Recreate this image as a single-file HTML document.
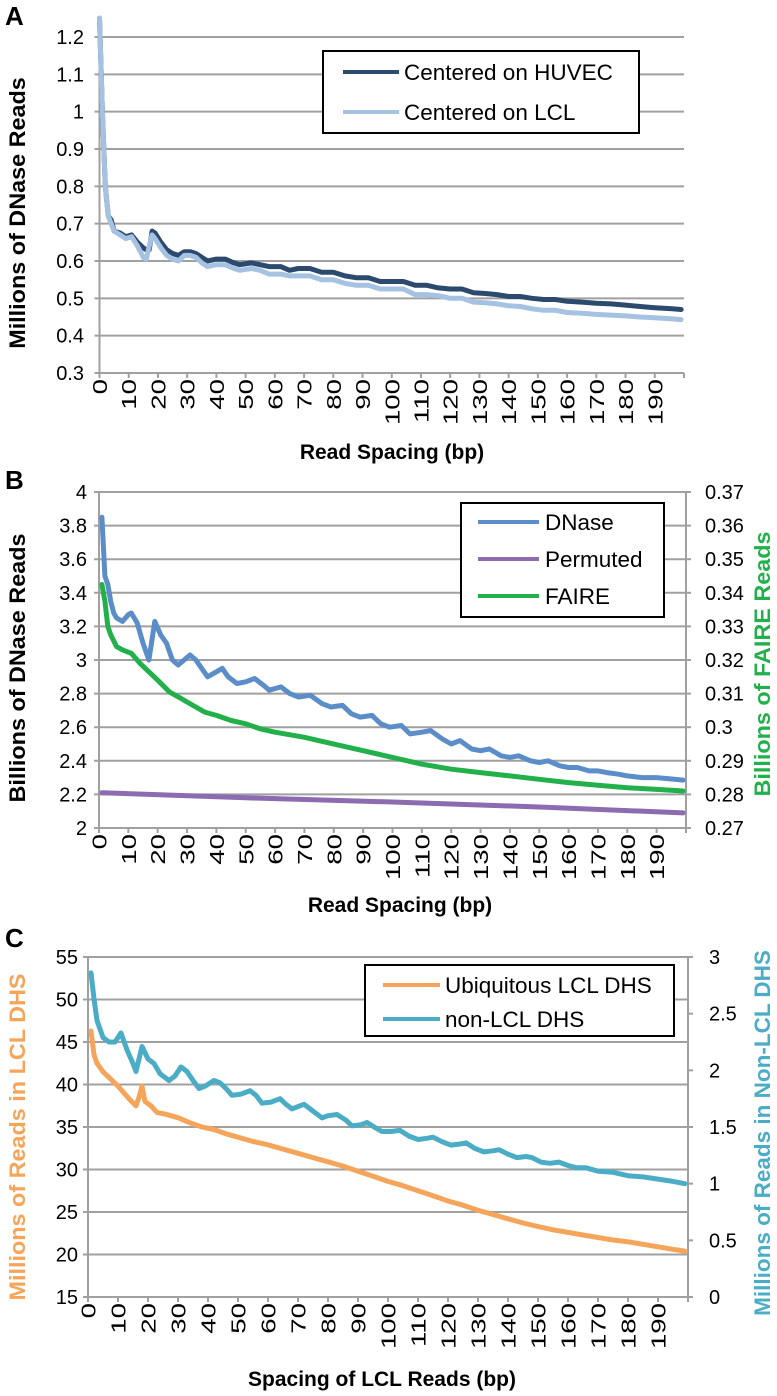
<!DOCTYPE html>
<html><head><meta charset="utf-8"><style>
body{margin:0;background:#fff}
svg{display:block;font-family:"Liberation Sans",Arial,sans-serif}
</style></head><body>
<svg id="fig" width="777" height="1396" viewBox="0 0 777 1396" xmlns="http://www.w3.org/2000/svg">
<text x="5" y="25" font-size="26" font-weight="bold">A</text>
<text x="5" y="489" font-size="26" font-weight="bold">B</text>
<text x="5" y="947" font-size="26" font-weight="bold">C</text>
<text transform="translate(25,213) rotate(-90) scale(1.04,1)" text-anchor="middle" font-size="22.5" font-weight="bold">Millions of DNase Reads</text>
<text transform="translate(25,668) rotate(-90) scale(1.04,1)" text-anchor="middle" font-size="22.5" font-weight="bold">Billions of DNase Reads</text>
<text transform="translate(25,1137) rotate(-90) scale(1.04,1)" text-anchor="middle" font-size="22.5" font-weight="bold" fill="#f5a55a">Millions of Reads in LCL DHS</text>
<text transform="translate(770,664) rotate(-90) scale(1.04,1)" text-anchor="middle" font-size="22.5" font-weight="bold" fill="#22b04b">Billions of FAIRE Reads</text>
<text transform="translate(770,1133) rotate(-90)" text-anchor="middle" font-size="22.5" font-weight="bold" fill="#4bacc6">Millions of  Reads in Non-LCL DHS</text>
<text x="392" y="459" text-anchor="middle" font-size="21" font-weight="bold">Read Spacing (bp)</text>
<text x="400" y="912" text-anchor="middle" font-size="21" font-weight="bold">Read Spacing (bp)</text>
<text x="382" y="1386" text-anchor="middle" font-size="21" font-weight="bold">Spacing of LCL Reads (bp)</text>
</svg>
<script>
// Panel A data
const aX=[0,1,2,3,4,5,7,9,11,13,15,16,17,18,19,21,23,25,27,29,31,33,35,37,40,43,46,48,52,55,58,62,65,68,72,76,80,84,88,92,96,100,104,108,112,116,120,124,128,132,136,140,144,148,152,156,160,165,170,175,180,185,190,196,199];
const aHuvec=[1.25,1.0,0.8,0.72,0.71,0.68,0.675,0.665,0.67,0.65,0.635,0.63,0.63,0.68,0.675,0.65,0.63,0.62,0.615,0.625,0.625,0.62,0.61,0.60,0.605,0.605,0.595,0.59,0.595,0.59,0.585,0.585,0.575,0.58,0.58,0.57,0.57,0.56,0.555,0.555,0.545,0.545,0.545,0.535,0.535,0.528,0.525,0.525,0.515,0.513,0.51,0.505,0.505,0.5,0.497,0.497,0.492,0.49,0.487,0.485,0.482,0.478,0.475,0.472,0.47];
const aLcl=[1.25,1.0,0.8,0.72,0.70,0.68,0.67,0.66,0.665,0.64,0.61,0.605,0.64,0.67,0.66,0.635,0.615,0.605,0.60,0.615,0.615,0.61,0.595,0.585,0.59,0.59,0.58,0.575,0.58,0.575,0.565,0.565,0.56,0.56,0.56,0.55,0.55,0.54,0.535,0.535,0.525,0.525,0.525,0.51,0.51,0.507,0.5,0.5,0.49,0.488,0.485,0.48,0.478,0.472,0.468,0.468,0.462,0.46,0.457,0.455,0.453,0.45,0.448,0.445,0.443];
const aTicks=[0.3,0.4,0.5,0.6,0.7,0.8,0.9,1.0,1.1,1.2];
const aTickLabels=["0.3","0.4","0.5","0.6","0.7","0.8","0.9","1","1.1","1.2"];
// Panel B data
const bDX=[1,2,3,4,5,6,8,10,11,13,15,17,19,21,23,25,27,29,31,33,35,37,40,42,44,47,50,53,56,58,62,65,68,72,76,79,83,86,89,93,96,99,103,106,110,113,117,120,123,127,130,133,137,140,143,147,150,153,157,160,163,167,170,173,177,180,185,190,196,199];
const bDnase=[3.85,3.5,3.45,3.35,3.28,3.25,3.23,3.27,3.28,3.22,3.1,3.0,3.23,3.15,3.1,3.0,2.97,3.0,3.03,3.0,2.95,2.9,2.93,2.95,2.9,2.86,2.87,2.89,2.85,2.82,2.84,2.8,2.78,2.79,2.74,2.72,2.73,2.68,2.66,2.67,2.62,2.6,2.61,2.56,2.57,2.58,2.53,2.5,2.52,2.47,2.46,2.47,2.43,2.42,2.43,2.4,2.39,2.4,2.37,2.36,2.36,2.34,2.34,2.33,2.32,2.31,2.3,2.3,2.29,2.285];
const bFX=[1,2,3,4,6,8,11,14,17,20,24,28,32,36,40,45,50,55,60,70,80,90,100,110,120,130,140,150,160,170,180,190,199];
const bFaire=[0.3425,0.3375,0.33,0.3275,0.324,0.323,0.322,0.319,0.3165,0.314,0.3105,0.3085,0.3065,0.3045,0.3035,0.302,0.301,0.2995,0.2985,0.297,0.295,0.293,0.291,0.289,0.2875,0.2865,0.2855,0.2845,0.2835,0.28275,0.282,0.2815,0.281];
const bPX=[1,50,100,150,199];
const bPermuted=[2.21,2.18,2.155,2.125,2.09];
const bTicks=[2,2.2,2.4,2.6,2.8,3,3.2,3.4,3.6,3.8,4];
const bTickLabels=["2","2.2","2.4","2.6","2.8","3","3.2","3.4","3.6","3.8","4"];
const bRTicks=[0.27,0.28,0.29,0.30,0.31,0.32,0.33,0.34,0.35,0.36,0.37];
const bRTickLabels=["0.27","0.28","0.29","0.3","0.31","0.32","0.33","0.34","0.35","0.36","0.37"];
// Panel C data
const cOX=[1,2,3,5,8,10,12,14,16,17,18,19,21,23,26,30,34,38,42,46,50,55,60,65,70,75,80,85,90,95,100,105,110,115,120,125,130,135,140,145,150,155,160,165,170,175,180,185,190,195,199];
const cUbiq=[46.3,43.5,42.5,41.5,40.5,39.8,39,38.2,37.5,38.5,39.8,38,37.5,36.7,36.5,36.1,35.5,35,34.7,34.2,33.8,33.3,32.9,32.4,31.9,31.4,30.9,30.4,29.8,29.2,28.6,28.1,27.5,26.9,26.3,25.8,25.2,24.7,24.2,23.7,23.3,22.9,22.6,22.3,22.0,21.7,21.5,21.2,20.9,20.6,20.4];
const cNX=[1,2,3,5,7,9,11,13,15,16,18,20,22,24,27,29,31,33,35,37,39,42,44,46,48,51,54,56,58,61,64,66,68,70,72,75,78,80,83,86,88,91,93,96,98,101,104,107,110,113,115,118,121,124,126,129,132,135,137,140,143,146,148,151,154,157,160,163,166,170,175,180,185,190,195,199];
const cNonLcl=[2.86,2.63,2.44,2.29,2.25,2.25,2.33,2.18,2.06,1.99,2.21,2.1,2.06,1.97,1.91,1.95,2.03,1.99,1.91,1.84,1.86,1.91,1.89,1.84,1.78,1.79,1.82,1.78,1.71,1.72,1.75,1.7,1.66,1.68,1.7,1.64,1.58,1.6,1.61,1.56,1.51,1.52,1.54,1.49,1.46,1.46,1.47,1.42,1.39,1.4,1.41,1.37,1.34,1.35,1.36,1.31,1.28,1.29,1.3,1.26,1.23,1.24,1.23,1.19,1.18,1.19,1.16,1.14,1.14,1.11,1.1,1.07,1.06,1.04,1.02,1.0];
const cTicks=[15,20,25,30,35,40,45,50,55];
const cTickLabels=["15","20","25","30","35","40","45","50","55"];
const cRTicks=[0,0.5,1,1.5,2,2.5,3];
const cRTickLabels=["0","0.5","1","1.5","2","2.5","3"];
const xTickVals=[0,10,20,30,40,50,60,70,80,90,100,110,120,130,140,150,160,170,180,190];

const NS="http://www.w3.org/2000/svg";
const svg=document.getElementById('fig');
function mk(tag,attrs,parent){const e=document.createElementNS(NS,tag);for(const k in attrs)e.setAttribute(k,attrs[k]);(parent||svg).appendChild(e);return e;}
function scale(d0,d1,r0,r1){return v=>r0+(v-d0)/(d1-d0)*(r1-r0);}

function panel(p){
  const g=mk('g',{});
  
  
  const x=scale(0,200,p.x0,p.x1), y=scale(p.ymin,p.ymax,p.yb,p.yt);
  p.ticks.forEach((t,i)=>{
    const gl=mk('line',{x1:p.x0-5,x2:p.x1,y1:y(t),y2:y(t),stroke:'#a0a0a0','stroke-width':2},g);
    
    
    const tl=mk('text',{x:p.lx,y:y(t)+7,'text-anchor':'end','font-size':20},g);
    tl.textContent=p.labels[i];
    
    
  });
  const ya=mk('line',{x1:p.x0,x2:p.x0,y1:p.yt,y2:p.yb,stroke:'#a0a0a0','stroke-width':2},g);
  
  
  if(p.rticks){
    const ry=scale(p.rmin,p.rmax,p.yb,p.yt);
    const ra=mk('line',{x1:p.x1,x2:p.x1,y1:p.yt,y2:p.yb,stroke:'#a0a0a0','stroke-width':2},g);
    
    
    p.rticks.forEach((t,i)=>{
      mk('line',{x1:p.x1,x2:p.x1+5,y1:ry(t),y2:ry(t),stroke:'#a0a0a0','stroke-width':2},g);
      const tl=mk('text',{x:p.rlx,y:ry(t)+7,'font-size':20},g);
      tl.textContent=p.rlabels[i];
      
      
    });
  }
  xTickVals.concat([200]).forEach(v=>{
    mk('line',{x1:x(v),x2:x(v),y1:p.yb,y2:p.yb+5,stroke:'#a0a0a0','stroke-width':2},g);
  });
  xTickVals.forEach(v=>{
    const tl=mk('text',{transform:`translate(${x(v)+7.5},${p.yb+6}) rotate(-90) scale(1.38,1)`,'text-anchor':'end','font-size':20},g);
    tl.textContent=String(v);
    
    
  });
  p.series.forEach(s=>{
    const sy=s.right?scale(p.rmin,p.rmax,p.yb,p.yt):y;
    const d=s.xs.map((v,i)=>(i?'L':'M')+x(v).toFixed(1)+','+sy(s.vals[i]).toFixed(1)).join('');
    const pa=mk('path',{d:d,fill:'none',stroke:s.color,'stroke-width':5,'stroke-linejoin':'round','stroke-linecap':'round'},g);
    
    
  });
  const L=p.legend;
  const lg=mk('g',{},g);
  
  
  mk('rect',{x:L.x,y:L.y,width:L.w,height:L.h,fill:'#fff',stroke:'#000','stroke-width':2},lg);
  L.rows.forEach((r,i)=>{
    const ry=L.ry[i];
    mk('line',{x1:L.lx0,x2:L.lx1,y1:ry,y2:ry,stroke:r.color,'stroke-width':4},lg);
    const t=mk('text',{x:L.tx,y:ry+8,'font-size':22.5},lg);
    t.textContent=r.label;
    
    
  });
}

panel({name:'panel-a',x0:99.5,x1:684,yt:37,yb:373,ymin:0.3,ymax:1.2,ticks:aTicks,labels:aTickLabels,lx:84,
  series:[{name:'huvec',xs:aX,vals:aHuvec,color:'#2c4a6e'},{name:'lcl',xs:aX,vals:aLcl,color:'#a6c2e2'}],
  legend:{x:323,y:51,w:316,h:82,lx0:343,lx1:399,tx:404,ry:[72,112],rows:[{color:'#2c4a6e',label:'Centered on HUVEC'},{color:'#a6c2e2',label:'Centered on LCL'}]}});
panel({name:'panel-b',x0:99,x1:686,yt:492,yb:828,ymin:2,ymax:4,ticks:bTicks,labels:bTickLabels,lx:87,
  rticks:bRTicks,rlabels:bRTickLabels,rmin:0.27,rmax:0.37,rlx:705,
  series:[{name:'permuted',xs:bPX,vals:bPermuted,color:'#8c6bb1'},{name:'faire',xs:bFX,vals:bFaire,color:'#22b04b',right:true},{name:'dnase',xs:bDX,vals:bDnase,color:'#5b8ec8'}],
  legend:{x:461,y:503,w:203,h:114,lx0:478,lx1:539,tx:545,ry:[522,559,596],rows:[{color:'#5b8ec8',label:'DNase'},{color:'#8c6bb1',label:'Permuted'},{color:'#22b04b',label:'FAIRE'}]}});
panel({name:'panel-c',x0:88,x1:688,yt:957,yb:1297,ymin:15,ymax:55,ticks:cTicks,labels:cTickLabels,lx:78,
  rticks:cRTicks,rlabels:cRTickLabels,rmin:0,rmax:3,rlx:709,
  series:[{name:'ubiquitous-lcl-dhs',xs:cOX,vals:cUbiq,color:'#f5a55a'},{name:'non-lcl-dhs',xs:cNX,vals:cNonLcl,color:'#4bacc6',right:true}],
  legend:{x:365,y:965,w:309,h:71,lx0:383,lx1:440,tx:445,ry:[985,1019],rows:[{color:'#f5a55a',label:'Ubiquitous LCL DHS'},{color:'#4bacc6',label:'non-LCL DHS'}]}});
</script>
</body></html>
